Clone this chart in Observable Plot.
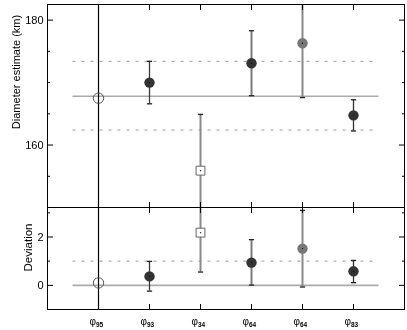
<!DOCTYPE html>
<html><head><meta charset="utf-8">
<script src="https://cdn.jsdelivr.net/npm/d3@7"></script>
<script src="https://cdn.jsdelivr.net/npm/@observablehq/plot@0.6"></script>
<style>
body{margin:0;background:#fff}
#wrap{position:relative;width:407px;height:330px;background:#fff;filter:grayscale(1)}
#wrap svg{position:absolute;left:0}
</style>
</head><body><div id="wrap"></div><script>
// ---- data ----
const subscripts = ["95", "93", "34", "64", "64", "83"];
const diameter = [167.5, 170.0, 155.9, 173.1, 176.3, 164.75];
const diameterLow = [null, 166.6, 146.9, 167.9, 167.6, 162.25];
const diameterHigh = [null, 173.4, 164.9, 178.3, 185.0, 167.25];
const deviation = [0.1, 0.37, 2.18, 0.94, 1.52, 0.58];
const deviationLow = [null, -0.24, 0.55, 0.01, -0.07, 0.11];
const deviationHigh = [null, 0.99, 3.8, 1.89, 3.1, 1.03];
const markerKind = ["open", "filled", "square", "filled", "light", "filled"];
const diameterRef = 167.8;
const diameterBand = [162.4, 173.4];
const deviationRef = 0;
const deviationBand = [1];
const diameterTicksMajor = [160, 180];
const diameterTicksMinor = [150, 155, 165, 170, 175];
const deviationTicksMajor = [0, 2];
const deviationTicksMinor = [-1, 1, 3];

// ---- styles ----
const barColor = ["none", "#3a3a3a", "#888", "#7a7a7a", "#888", "#333"];
const barWidth = [0, 1.3, 2, 2, 2, 1.3];
const FONT = "'Liberation Sans', Arial, Helvetica, sans-serif";

const positions = subscripts.map((_, i) => i + 1);
const xDomain = [0, subscripts.length + 1];
const capSymbol = {draw(ctx, size) { const w = Math.sqrt(size / Math.PI); ctx.moveTo(-w, 0); ctx.lineTo(w, 0); }};

function rowsOf(values, low, high) {
  return values.map((v, i) => ({pos: positions[i], v, lo: low[i], hi: high[i], kind: markerKind[i], color: barColor[i], width: barWidth[i]}));
}

function panel({values, low, high, yDomain, major, minor, ref, band, height, marginTop, marginBottom, extra = []}) {
  const rows = rowsOf(values, low, high);
  const bars = rows.filter(d => d.lo != null);
  const x1 = positions[0] - 0.5, x2 = positions[positions.length - 1] + 0.5;
  return Plot.plot({
    width: 407, height, marginLeft: 47, marginRight: 3, marginTop, marginBottom,
    style: {fontFamily: FONT, fontSize: "11px", background: "transparent", overflow: "visible", color: "black"},
    x: {domain: xDomain},
    y: {domain: yDomain},
    marks: [
      Plot.ruleY(band, {x1, x2, stroke: "#999", strokeWidth: 1, strokeDasharray: "3,6"}),
      Plot.ruleY([ref], {x1, x2, stroke: "#aaa", strokeWidth: 1.6}),
      Plot.ruleX([positions[0]], {stroke: "black", strokeWidth: 1.2}),
      Plot.ruleX(bars, {x: "pos", y1: "lo", y2: "hi", stroke: "color", strokeWidth: "width", clip: true}),
      Plot.dot(bars, {x: "pos", y: "lo", symbol: capSymbol, r: 2.6, stroke: "#222", strokeWidth: 1.3, fill: "none", clip: true}),
      Plot.dot(bars, {x: "pos", y: "hi", symbol: capSymbol, r: 2.6, stroke: "#222", strokeWidth: 1.3, fill: "none", clip: true}),
      Plot.dot(rows.filter(d => d.kind === "open"), {x: "pos", y: "v", r: 5.2, stroke: "#555", strokeWidth: 1, fill: "none"}),
      Plot.dot(rows.filter(d => d.kind === "square"), {x: "pos", y: "v", symbol: "square", r: 5, stroke: "#666", strokeWidth: 1, fill: "white"}),
      Plot.dot(rows.filter(d => d.kind === "filled"), {x: "pos", y: "v", r: 5.2, fill: "#333"}),
      Plot.dot(rows.filter(d => d.kind === "light"), {x: "pos", y: "v", r: 5.2, fill: "#777"}),
      Plot.dot(rows.filter(d => d.kind !== "open"), {x: "pos", y: "v", r: 0.7, fill: "#111"}),
      Plot.frame({stroke: "black", strokeWidth: 1}),
      // inward ticks
      Plot.axisY({anchor: "left", ticks: major, tickSize: 6, dx: 6, tickFormat: () => "", label: null}),
      Plot.axisY({anchor: "left", ticks: minor, tickSize: 3, dx: 3, tickFormat: () => "", label: null}),
      Plot.axisY({anchor: "right", ticks: major, tickSize: 6, dx: -6, tickFormat: () => "", label: null}),
      Plot.axisY({anchor: "right", ticks: minor, tickSize: 3, dx: -3, tickFormat: () => "", label: null}),
      Plot.axisY({anchor: "left", ticks: major, tickSize: 0, tickPadding: 4, fontSize: 11, fill: "black", label: null, tickFormat: d => String(d)}),
      Plot.axisX({anchor: "top", ticks: positions, tickSize: 5, dy: 5, tickFormat: () => "", label: null}),
      Plot.axisX({anchor: "bottom", ticks: positions, tickSize: 5, dy: -5, tickFormat: () => "", label: null}),
      ...extra
    ]
  });
}

const topPanel = panel({
  values: diameter, low: diameterLow, high: diameterHigh, yDomain: [150, 182.5],
  major: diameterTicksMajor, minor: diameterTicksMinor, ref: diameterRef, band: diameterBand,
  height: 208, marginTop: 4, marginBottom: 1,
  extra: [
    Plot.text(["Diameter estimate (km)"], {frameAnchor: "left", dx: -31, dy: -34, rotate: -90, fontSize: 11, fill: "black", textAnchor: "middle", lineAnchor: "middle"})
  ]
});
const bottomPanel = panel({
  values: deviation, low: deviationLow, high: deviationHigh, yDomain: [-1, 3.22],
  major: deviationTicksMajor, minor: deviationTicksMinor, ref: deviationRef, band: deviationBand,
  height: 124, marginTop: 1, marginBottom: 21,
  extra: [
    Plot.text(["Deviation"], {frameAnchor: "left", dx: -19, dy: -11, rotate: -90, fontSize: 11.5, fill: "black", textAnchor: "middle", lineAnchor: "middle"}),
    Plot.text(positions, {x: d => d, text: () => "φ", frameAnchor: "bottom", dx: -2.5, dy: 15, fontSize: 10, fill: "black", textAnchor: "end", lineAnchor: "bottom"}),
    Plot.text(positions, {x: d => d, text: (d, i) => subscripts[i], frameAnchor: "bottom", dx: -2.5, dy: 17.5, fontSize: 6.5, fontWeight: "bold", fill: "black", textAnchor: "start", lineAnchor: "bottom"})
  ]
});
topPanel.style.top = "0px";
bottomPanel.style.top = "206px";
document.getElementById("wrap").append(topPanel, bottomPanel);
</script></body></html>
